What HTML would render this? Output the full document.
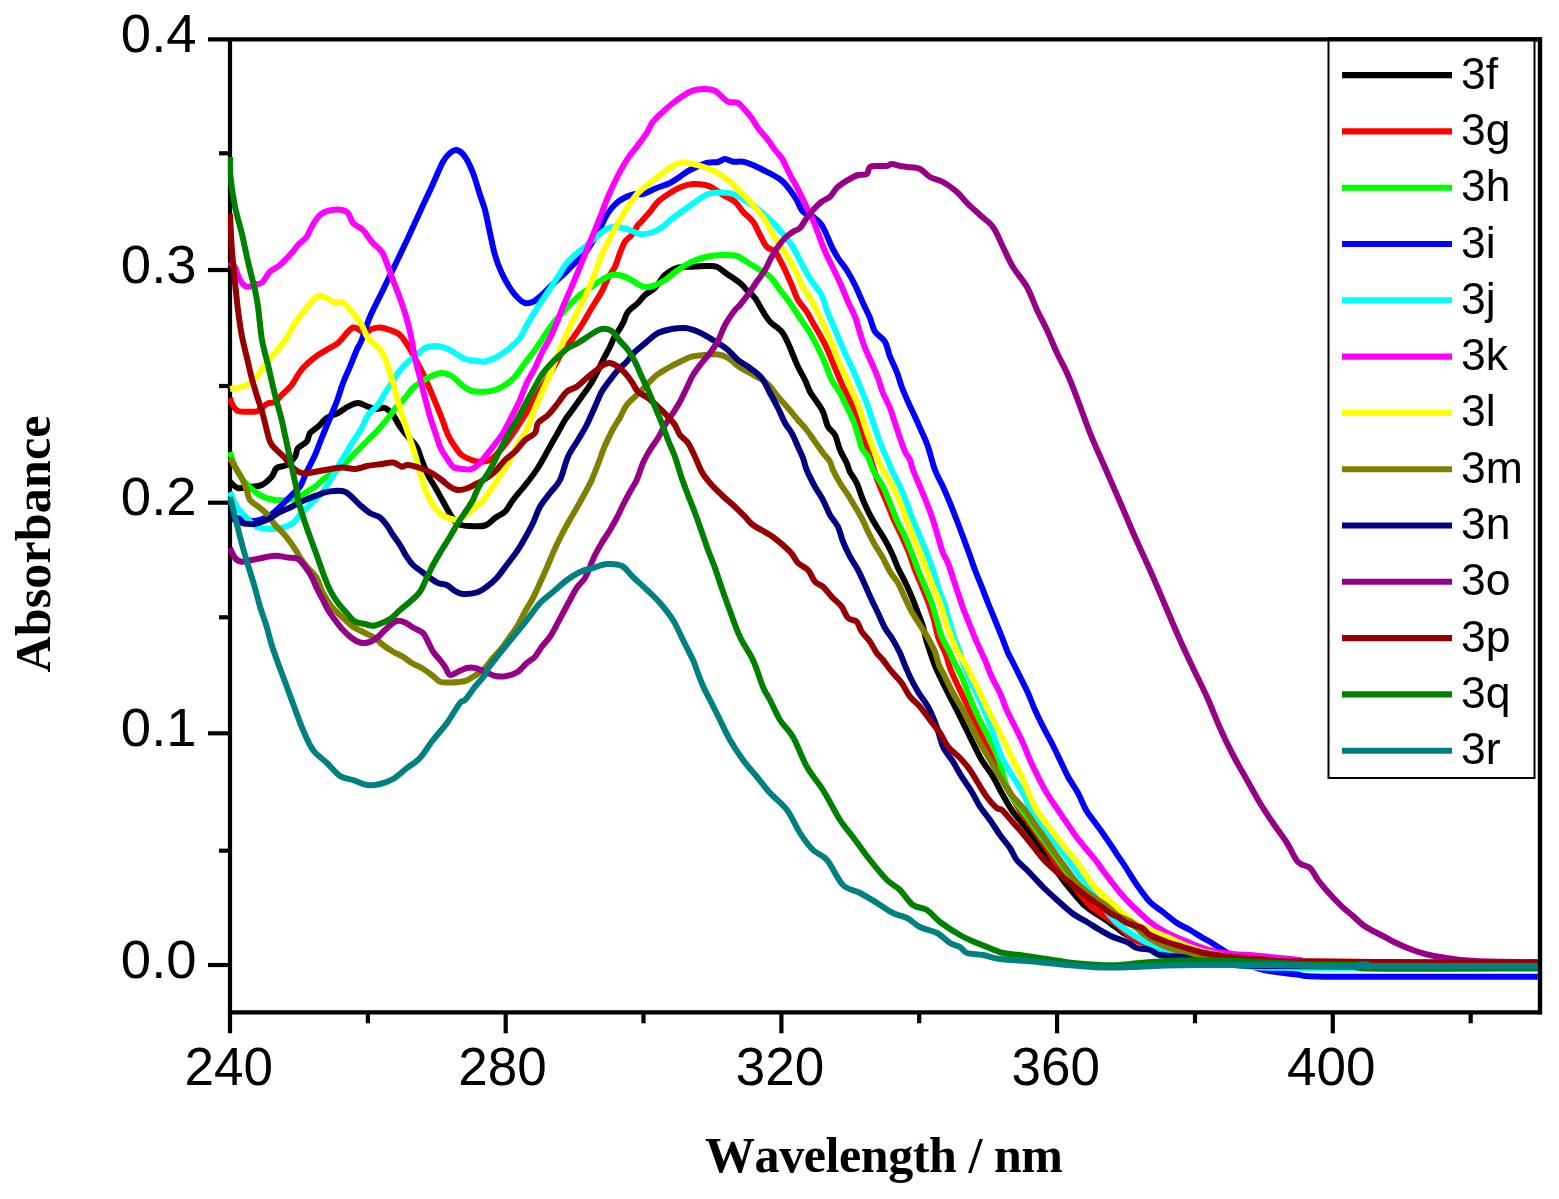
<!DOCTYPE html>
<html><head><meta charset="utf-8"><title>UV-Vis absorbance</title>
<style>html,body{margin:0;padding:0;background:#fff}svg{display:block}.t{font-family:"Liberation Sans",Arial,sans-serif;fill:#000}.b{font-kerning:none;font-family:"Liberation Serif","Times New Roman",serif;font-weight:bold;fill:#000}</style></head><body>
<svg width="1559" height="1199" viewBox="0 0 1559 1199">
<rect width="1559" height="1199" fill="#fff"/>
<defs><clipPath id="cp"><rect x="227.9" y="39.3" width="1310.0" height="973.0"/></clipPath></defs>
<g stroke="#000" stroke-width="4.2" fill="none" stroke-linecap="butt">
<path d="M208.0,39.3 H1540.0 V1012.3 H227.9"/>
<path d="M230.0,39.3 V1033.3"/>
<path d="M208.0,965.0 H230.0"/>
<path d="M219.0,850.7 H230.0"/>
<path d="M208.0,733.3 H230.0"/>
<path d="M219.0,617.3 H230.0"/>
<path d="M208.0,502.7 H230.0"/>
<path d="M219.0,386.0 H230.0"/>
<path d="M208.0,270.0 H230.0"/>
<path d="M219.0,153.3 H230.0"/>
<path d="M367.9,1012.3 V1023.3"/>
<path d="M505.7,1012.3 V1033.3"/>
<path d="M643.5,1012.3 V1023.3"/>
<path d="M781.4,1012.3 V1033.3"/>
<path d="M919.2,1012.3 V1023.3"/>
<path d="M1057.1,1012.3 V1033.3"/>
<path d="M1195.0,1012.3 V1023.3"/>
<path d="M1332.8,1012.3 V1033.3"/>
<path d="M1470.7,1012.3 V1023.3"/>
</g>
<g clip-path="url(#cp)" fill="none" stroke-width="6.0" stroke-linejoin="round" stroke-linecap="butt">
<path stroke="#000000" d="M230.0,481.7C231.3,482.8 234.7,487.2 238.0,488.0C241.3,488.8 246.1,487.2 250.0,486.7C253.9,486.2 258.1,486.7 261.7,485.0C265.3,483.3 269.2,479.5 271.7,476.7C274.2,473.9 274.2,469.9 276.7,468.0C279.2,466.1 283.6,466.9 286.7,465.0C289.8,463.1 293.1,459.5 295.0,456.7C296.9,453.9 296.1,450.5 298.0,448.0C299.9,445.5 304.7,444.2 306.7,441.7C308.7,439.2 308.1,435.5 310.0,433.0C311.9,430.5 315.2,429.2 318.0,426.7C320.8,424.2 323.4,420.3 326.7,418.0C330.0,415.7 334.4,414.9 338.0,413.0C341.6,411.1 344.7,408.4 348.0,406.7C351.3,405.0 354.7,403.0 358.0,403.0C361.3,403.0 364.9,405.7 368.0,406.7C371.1,407.7 373.9,408.8 376.7,409.0C379.5,409.2 382.3,407.0 385.0,408.0C387.7,409.0 390.5,411.9 393.0,415.0C395.5,418.1 397.5,423.1 400.0,426.7C402.5,430.3 405.2,433.4 408.0,436.7C410.8,440.0 414.4,442.8 416.7,446.7C419.0,450.6 419.8,455.3 421.7,460.0C423.6,464.7 425.5,470.0 428.0,475.0C430.5,480.0 433.9,485.0 436.7,490.0C439.5,495.0 442.5,500.6 445.0,505.0C447.5,509.4 449.5,513.5 451.7,516.7C453.9,519.9 455.3,522.5 458.0,524.0C460.7,525.5 463.5,525.8 468.0,526.0C472.5,526.2 480.5,526.8 485.0,525.5C489.5,524.2 491.7,520.3 495.0,518.0C498.3,515.7 502.0,514.7 505.0,511.7C508.0,508.7 510.2,503.8 513.0,500.0C515.8,496.2 519.2,492.5 522.0,489.0C524.8,485.5 527.4,482.4 530.0,479.0C532.6,475.6 535.2,472.1 537.5,468.5C539.8,464.9 541.8,461.4 544.0,457.5C546.2,453.6 548.5,449.2 550.8,445.0C553.1,440.8 555.6,436.7 558.0,432.5C560.4,428.3 562.5,423.9 565.0,420.0C567.5,416.1 570.2,412.9 573.0,409.0C575.8,405.1 578.9,400.7 581.7,396.7C584.5,392.7 587.5,388.9 590.0,385.0C592.5,381.1 594.5,377.2 596.7,373.0C598.9,368.8 600.8,364.4 603.0,360.0C605.2,355.6 608.2,350.4 610.0,346.7C611.8,343.0 611.8,341.9 614.0,338.0C616.2,334.1 620.7,327.4 623.0,323.0C625.3,318.6 625.5,315.0 628.0,311.7C630.5,308.4 635.2,305.8 638.0,303.0C640.8,300.2 642.2,297.5 645.0,295.0C647.8,292.5 651.7,291.3 655.0,288.0C658.3,284.7 661.4,278.3 665.0,275.0C668.6,271.7 672.2,269.4 676.7,268.0C681.2,266.6 688.4,266.9 691.7,266.7C695.0,266.4 694.2,266.6 696.7,266.5C699.2,266.4 703.4,266.0 706.7,266.0C710.0,266.0 713.3,265.4 716.7,266.7C720.1,268.0 723.1,271.3 727.0,274.0C730.9,276.7 736.7,280.3 740.0,283.0C743.3,285.7 744.2,287.5 746.7,290.0C749.2,292.5 752.3,294.4 755.0,298.0C757.7,301.6 760.5,307.8 763.0,311.7C765.5,315.6 766.9,318.4 770.0,321.7C773.1,325.0 778.7,328.1 781.7,331.7C784.7,335.2 786.1,339.1 788.0,343.0C789.9,346.9 791.3,351.1 793.0,355.0C794.7,358.9 796.0,362.5 798.0,366.7C800.0,370.9 803.0,375.8 805.0,380.0C807.0,384.2 808.0,388.1 810.0,391.7C812.0,395.3 814.5,398.4 816.7,401.7C818.9,405.0 821.1,407.5 823.0,411.7C824.9,415.9 826.0,422.8 828.0,426.7C830.0,430.6 833.0,431.1 835.0,435.0C837.0,438.9 838.0,445.3 840.0,450.0C842.0,454.7 845.0,459.3 846.7,463.0C848.4,466.7 848.3,468.7 850.0,472.0C851.7,475.3 854.5,478.3 856.7,483.0C858.9,487.7 860.8,494.7 863.0,500.0C865.2,505.3 867.7,510.6 870.0,515.0C872.3,519.5 874.2,522.5 876.7,526.7C879.2,530.9 882.5,535.6 885.0,540.0C887.5,544.4 889.5,548.3 891.7,553.0C893.9,557.7 895.8,563.2 898.0,568.0C900.2,572.8 902.7,576.9 905.0,581.7C907.3,586.5 909.5,591.5 911.7,596.7C913.9,601.9 916.1,608.0 918.0,613.0C919.9,618.0 921.5,621.9 923.0,626.7C924.5,631.5 925.2,636.7 926.7,641.7C928.2,646.7 930.2,652.3 931.7,656.7C933.2,661.1 934.6,664.7 936.0,668.0C937.4,671.3 938.0,672.5 940.0,676.7C942.0,680.9 945.2,687.5 948.0,693.0C950.8,698.5 953.9,704.4 956.7,710.0C959.5,715.6 962.3,721.2 965.0,726.7C967.7,732.2 970.2,737.5 973.0,743.0C975.8,748.5 978.4,754.4 981.7,760.0C985.0,765.6 989.7,771.2 993.0,776.7C996.3,782.2 998.6,787.5 1001.7,793.0C1004.8,798.5 1008.4,805.1 1011.7,810.0C1015.0,814.9 1018.2,818.3 1021.5,822.5C1024.8,826.7 1028.5,830.8 1031.7,835.0C1034.9,839.2 1037.6,843.3 1040.5,847.5C1043.4,851.7 1046.2,855.8 1049.0,860.0C1051.8,864.2 1054.5,868.3 1057.5,872.5C1060.5,876.7 1063.6,881.1 1066.7,885.0C1069.8,888.9 1073.0,892.5 1076.0,896.0C1079.0,899.5 1081.8,903.0 1085.0,905.8C1088.2,908.6 1092.0,911.0 1095.0,913.0C1098.0,915.0 1099.3,915.5 1103.0,918.0C1106.7,920.5 1113.0,925.2 1117.0,928.0C1121.0,930.8 1119.8,931.7 1127.0,935.0C1134.2,938.3 1149.5,944.3 1160.0,948.0C1170.5,951.7 1180.0,954.7 1190.0,957.0C1200.0,959.3 1208.3,960.8 1220.0,962.0C1231.7,963.2 1207.0,963.7 1260.0,964.0C1313.0,964.3 1491.7,964.0 1538.0,964.0"/>
<path stroke="#ff0000" d="M230.0,398.0C230.4,399.2 231.2,402.8 232.5,405.0C233.8,407.2 235.4,409.9 238.0,411.0C240.6,412.1 244.7,411.7 248.0,411.7C251.3,411.7 254.9,412.3 258.0,411.0C261.1,409.7 263.9,405.6 266.7,404.0C269.5,402.4 272.5,403.2 275.0,401.7C277.5,400.2 278.9,397.8 281.7,395.0C284.5,392.2 288.6,388.9 291.7,385.0C294.8,381.1 297.3,375.4 300.0,371.7C302.7,368.0 305.0,365.8 308.0,363.0C311.0,360.2 314.7,357.3 318.0,355.0C321.3,352.7 324.7,351.0 328.0,349.0C331.3,347.0 334.7,345.9 338.0,343.0C341.3,340.1 345.5,334.3 348.0,331.7C350.5,329.1 351.3,327.9 353.0,327.5C354.7,327.1 356.0,328.1 358.0,329.0C360.0,329.9 362.7,333.0 365.0,333.0C367.3,333.0 369.2,329.9 371.7,329.0C374.2,328.1 376.9,327.3 380.0,327.5C383.1,327.7 386.7,328.8 390.0,330.0C393.3,331.2 397.0,332.3 400.0,335.0C403.0,337.7 405.2,341.6 408.0,346.0C410.8,350.4 413.9,356.4 416.7,361.7C419.5,367.0 422.3,372.2 425.0,378.0C427.7,383.8 430.2,390.0 433.0,396.7C435.8,403.4 439.2,411.6 441.7,418.0C444.2,424.4 445.8,430.2 448.0,435.0C450.2,439.8 452.7,443.4 455.0,446.7C457.3,450.0 458.9,452.8 461.7,455.0C464.5,457.2 468.4,458.9 471.7,460.0C475.0,461.1 478.4,461.9 481.7,461.7C485.0,461.5 488.1,461.4 491.7,459.0C495.2,456.6 499.3,451.5 503.0,447.0C506.7,442.5 510.3,437.3 514.0,432.0C517.7,426.7 521.5,420.7 525.0,415.0C528.5,409.3 531.7,403.5 535.0,398.0C538.3,392.5 541.7,387.5 545.0,382.0C548.3,376.5 552.2,369.8 555.0,365.0C557.8,360.2 558.7,357.5 561.7,353.0C564.7,348.5 569.5,343.0 573.0,338.0C576.5,333.0 579.9,328.0 583.0,323.0C586.1,318.0 588.6,313.2 591.7,308.0C594.8,302.8 599.0,296.7 601.7,291.7C604.4,286.7 605.8,282.2 608.0,278.0C610.2,273.8 613.0,270.9 615.0,266.7C617.0,262.5 618.3,257.2 620.0,253.0C621.7,248.8 623.0,244.7 625.0,241.7C627.0,238.7 629.5,237.8 631.7,235.0C633.9,232.2 636.6,227.0 638.0,225.0C639.4,223.0 638.0,225.2 640.0,223.0C642.0,220.8 647.0,215.2 650.0,211.7C653.0,208.1 654.7,204.8 658.0,201.7C661.3,198.6 666.0,195.5 670.0,193.0C674.0,190.5 677.9,188.2 681.7,186.7C685.5,185.2 689.1,184.3 693.0,184.0C696.9,183.7 701.7,184.3 705.0,185.0C708.3,185.7 710.0,186.3 713.0,188.0C716.0,189.7 719.3,192.7 723.0,195.0C726.7,197.3 731.7,198.9 735.0,201.7C738.3,204.5 740.0,208.4 743.0,211.7C746.0,215.0 750.2,217.8 753.0,221.7C755.8,225.6 757.7,230.8 760.0,235.0C762.3,239.2 764.2,243.9 766.7,246.7C769.2,249.5 772.8,249.5 775.0,251.7C777.2,253.9 778.3,256.9 780.0,260.0C781.7,263.1 783.0,265.8 785.0,270.0C787.0,274.2 789.5,280.0 791.7,285.0C793.9,290.0 795.5,295.6 798.0,300.0C800.5,304.4 804.2,307.9 806.7,311.7C809.2,315.5 810.8,319.1 813.0,323.0C815.2,326.9 817.7,330.8 820.0,335.0C822.3,339.2 824.5,343.3 826.7,348.0C828.9,352.7 830.3,356.6 833.0,363.0C835.7,369.4 839.7,379.4 843.0,386.7C846.3,394.0 849.7,399.0 853.0,406.7C856.3,414.4 860.5,425.8 863.0,433.0C865.5,440.2 866.2,443.8 868.0,450.0C869.8,456.2 872.0,463.9 874.0,470.0C876.0,476.1 877.8,481.2 880.0,486.7C882.2,492.2 884.7,497.4 887.0,503.0C889.3,508.6 891.5,514.4 894.0,520.0C896.5,525.6 899.5,531.2 902.0,536.7C904.5,542.2 906.8,547.5 909.0,553.0C911.2,558.5 912.8,564.4 915.0,570.0C917.2,575.6 919.8,581.2 922.0,586.7C924.2,592.2 926.5,597.5 928.5,603.0C930.5,608.5 932.4,614.4 934.0,620.0C935.6,625.6 936.0,630.9 938.0,636.7C940.0,642.5 944.0,649.8 946.0,655.0C948.0,660.2 948.0,662.8 950.0,668.0C952.0,673.2 955.0,679.5 958.0,686.0C961.0,692.5 964.8,700.0 968.0,706.7C971.2,713.4 974.0,719.6 977.0,726.0C980.0,732.4 982.8,738.5 986.0,745.0C989.2,751.5 992.7,758.3 996.0,765.0C999.3,771.7 1002.1,777.5 1006.0,785.0C1009.9,792.5 1015.9,803.8 1019.6,810.0C1023.4,816.2 1025.5,818.3 1028.5,822.5C1031.5,826.7 1034.6,830.8 1037.5,835.0C1040.4,839.2 1043.2,843.3 1046.0,847.5C1048.8,851.7 1051.3,856.1 1054.0,860.0C1056.7,863.9 1059.3,867.3 1062.0,871.0C1064.7,874.7 1067.0,878.2 1070.0,882.0C1073.0,885.8 1076.7,890.0 1080.0,894.0C1083.3,898.0 1086.7,902.6 1090.0,905.8C1093.3,909.0 1095.5,909.8 1100.0,913.0C1104.5,916.2 1110.8,920.3 1117.0,925.0C1123.2,929.7 1128.7,937.2 1137.0,941.0C1145.3,944.8 1159.3,946.2 1167.0,948.0C1174.7,949.8 1177.5,950.8 1183.0,952.0C1188.5,953.2 1193.8,954.2 1200.0,955.0C1206.2,955.8 1210.0,956.0 1220.0,957.0C1230.0,958.0 1207.0,960.0 1260.0,961.0C1313.0,962.0 1491.7,962.7 1538.0,963.0"/>
<path stroke="#00ff00" d="M230.0,452.0C230.8,454.4 232.8,462.0 235.0,466.7C237.2,471.4 240.0,476.1 243.0,480.0C246.0,483.9 249.7,487.2 253.0,490.0C256.3,492.8 259.3,495.0 263.0,496.7C266.7,498.4 271.1,499.4 275.0,500.0C278.9,500.6 283.2,500.3 286.7,500.0C290.2,499.7 292.9,499.2 296.0,498.0C299.1,496.8 301.8,494.9 305.0,493.0C308.2,491.1 311.7,489.2 315.0,486.7C318.3,484.2 321.7,480.5 325.0,478.0C328.3,475.5 331.4,474.4 335.0,471.7C338.6,469.0 342.9,465.3 346.7,461.7C350.5,458.1 354.4,453.6 358.0,450.0C361.6,446.4 364.7,443.3 368.0,440.0C371.3,436.7 374.7,433.7 378.0,430.0C381.3,426.3 384.9,421.9 388.0,418.0C391.1,414.1 393.9,410.0 396.7,406.7C399.5,403.4 402.3,401.1 405.0,398.0C407.7,394.9 410.2,390.7 413.0,388.0C415.8,385.3 418.9,383.6 421.7,381.7C424.5,379.8 426.7,378.1 430.0,376.7C433.3,375.2 438.1,373.1 441.7,373.0C445.3,372.9 448.4,374.0 451.7,376.0C455.0,378.0 458.4,382.5 461.7,385.0C465.0,387.5 467.8,389.9 471.7,391.0C475.6,392.1 481.1,391.9 485.0,391.7C488.9,391.5 491.7,391.1 495.0,390.0C498.3,388.9 501.7,387.2 505.0,385.0C508.3,382.8 511.7,380.4 515.0,376.7C518.3,373.0 521.7,367.4 525.0,363.0C528.3,358.6 532.2,353.8 535.0,350.0C537.8,346.2 538.9,344.2 541.7,340.0C544.5,335.8 547.8,330.0 551.7,325.0C555.6,320.0 560.6,314.7 565.0,310.0C569.4,305.3 573.5,300.6 578.0,296.7C582.5,292.8 587.8,289.5 591.7,286.7C595.7,283.9 598.4,281.9 601.7,280.0C605.0,278.1 608.2,275.7 611.7,275.0C615.2,274.3 619.5,275.0 623.0,276.0C626.5,277.0 629.7,279.2 633.0,281.0C636.3,282.8 639.7,285.9 643.0,286.7C646.3,287.5 649.3,287.1 653.0,286.0C656.7,284.9 660.8,282.7 665.0,280.0C669.2,277.3 673.5,273.1 678.0,270.0C682.5,266.9 686.9,263.9 691.7,261.7C696.5,259.5 701.5,257.8 706.7,256.7C711.9,255.6 718.0,255.1 723.0,255.0C728.0,254.9 732.8,254.9 736.7,256.0C740.7,257.1 743.4,259.7 746.7,261.7C750.0,263.7 752.8,265.5 756.7,268.0C760.6,270.5 766.1,273.0 770.0,276.7C773.9,280.4 776.7,285.6 780.0,290.0C783.3,294.4 786.7,298.3 790.0,303.0C793.3,307.7 796.7,313.0 800.0,318.0C803.3,323.0 807.0,328.0 810.0,333.0C813.0,338.0 815.5,343.0 818.0,348.0C820.5,353.0 822.7,357.7 825.0,363.0C827.3,368.3 829.2,375.0 831.7,380.0C834.2,385.0 837.5,388.6 840.0,393.0C842.5,397.4 844.5,402.2 846.7,406.7C848.9,411.2 851.1,415.3 853.0,420.0C854.9,424.7 856.5,430.3 858.0,435.0C859.5,439.7 860.0,444.4 861.7,448.0C863.4,451.6 866.1,453.0 868.0,456.7C869.9,460.4 870.5,465.0 873.0,470.0C875.5,475.0 880.2,481.2 883.0,486.7C885.8,492.2 887.7,497.4 890.0,503.0C892.3,508.6 894.2,514.4 896.7,520.0C899.2,525.6 902.5,531.2 905.0,536.7C907.5,542.2 909.5,547.5 911.7,553.0C913.9,558.5 915.8,564.4 918.0,570.0C920.2,575.6 922.7,581.2 925.0,586.7C927.3,592.2 929.8,597.5 931.7,603.0C933.7,608.5 935.0,614.4 936.7,620.0C938.4,625.6 939.5,631.2 941.7,636.7C943.9,642.2 948.1,649.1 950.0,653.0C951.9,656.9 951.0,656.0 953.0,660.0C955.0,664.0 959.2,671.2 961.7,676.7C964.2,682.2 965.8,687.5 968.0,693.0C970.2,698.5 972.5,704.4 975.0,710.0C977.5,715.6 980.2,721.2 983.0,726.7C985.8,732.2 989.0,737.5 991.7,743.0C994.4,748.5 996.3,752.2 999.0,760.0C1001.7,767.8 1004.2,781.7 1008.0,790.0C1011.8,798.3 1018.2,804.6 1022.0,810.0C1025.8,815.4 1028.0,818.3 1031.0,822.5C1034.0,826.7 1037.0,830.8 1040.0,835.0C1043.0,839.2 1046.0,843.3 1049.0,847.5C1052.0,851.7 1055.0,855.8 1058.0,860.0C1061.0,864.2 1063.8,868.3 1067.0,872.5C1070.2,876.7 1073.2,881.0 1077.0,885.0C1080.8,889.0 1085.5,892.9 1090.0,896.5C1094.5,900.1 1099.0,902.9 1104.0,906.5C1109.0,910.1 1114.8,914.6 1120.0,918.0C1125.2,921.4 1130.0,923.7 1135.0,927.0C1140.0,930.3 1145.0,934.7 1150.0,938.0C1155.0,941.3 1160.0,944.5 1165.0,947.0C1170.0,949.5 1174.2,950.8 1180.0,953.0C1185.8,955.2 1192.5,958.2 1200.0,960.0C1207.5,961.8 1168.7,963.2 1225.0,964.0C1281.3,964.8 1485.8,964.8 1538.0,965.0"/>
<path stroke="#0000ff" d="M230.0,517.0C231.1,517.2 232.9,517.3 236.7,518.0C240.5,518.7 247.8,521.2 253.0,521.0C258.2,520.8 263.5,519.1 268.0,516.7C272.5,514.3 276.1,510.3 280.0,506.7C283.9,503.1 288.4,498.3 291.7,495.0C295.0,491.7 297.5,490.6 300.0,486.7C302.5,482.8 304.2,477.0 306.7,471.7C309.2,466.4 312.5,460.6 315.0,455.0C317.5,449.4 319.2,444.2 321.7,438.0C324.2,431.8 327.5,424.1 330.0,418.0C332.5,411.9 334.5,407.5 336.7,401.7C338.9,395.9 340.8,388.8 343.0,383.0C345.2,377.2 347.7,372.2 350.0,366.7C352.3,361.2 354.8,354.4 356.7,350.0C358.6,345.6 359.5,345.6 361.7,340.0C363.9,334.4 366.4,325.0 370.0,316.7C373.6,308.4 378.6,299.2 383.0,290.0C387.4,280.8 392.5,270.4 396.7,261.7C400.9,253.0 404.1,246.3 408.0,238.0C411.9,229.7 416.1,220.2 420.0,211.7C423.9,203.1 427.9,195.0 431.7,186.7C435.5,178.4 439.9,167.3 443.0,161.7C446.1,156.1 447.7,154.9 450.0,153.0C452.3,151.1 454.2,149.4 456.7,150.0C459.2,150.6 462.3,152.9 465.0,156.7C467.7,160.5 470.5,166.6 473.0,173.0C475.5,179.4 478.0,188.8 480.0,195.0C482.0,201.2 483.3,203.7 485.0,210.0C486.7,216.3 488.3,225.5 490.0,233.0C491.7,240.5 493.1,248.3 495.0,255.0C496.9,261.7 499.2,267.5 501.7,273.0C504.2,278.5 507.3,283.8 510.0,288.0C512.7,292.2 515.5,295.5 518.0,298.0C520.5,300.5 522.5,302.4 525.0,303.0C527.5,303.6 530.2,303.0 533.0,301.7C535.8,300.4 538.4,297.9 541.7,295.0C545.0,292.1 549.1,287.7 553.0,284.0C556.9,280.3 561.3,276.5 565.0,273.0C568.7,269.5 571.7,266.3 575.0,263.0C578.3,259.7 581.3,257.8 585.0,253.0C588.7,248.2 593.2,240.7 597.0,234.0C600.8,227.3 604.7,218.2 608.0,213.0C611.3,207.8 613.9,205.6 616.7,203.0C619.5,200.4 622.0,199.0 625.0,197.5C628.0,196.0 632.0,194.6 635.0,194.0C638.0,193.4 639.4,195.0 643.0,194.0C646.6,193.0 652.2,189.8 656.7,188.0C661.2,186.2 666.1,184.9 670.0,183.0C673.9,181.1 676.7,178.9 680.0,176.7C683.3,174.5 685.5,172.3 690.0,170.0C694.5,167.7 702.0,164.3 706.7,163.0C711.4,161.7 715.0,162.7 718.0,162.0C721.0,161.3 722.5,159.1 725.0,159.0C727.5,158.9 730.0,161.2 733.0,161.7C736.0,162.1 739.7,161.1 743.0,161.7C746.3,162.2 749.7,163.6 753.0,165.0C756.3,166.4 759.7,168.3 763.0,170.0C766.3,171.7 769.7,173.1 773.0,175.0C776.3,176.9 780.2,179.2 783.0,181.7C785.8,184.2 787.7,186.9 790.0,190.0C792.3,193.1 794.5,196.4 796.7,200.0C798.9,203.6 800.3,208.9 803.0,211.7C805.7,214.5 809.9,214.5 813.0,216.7C816.1,218.9 819.4,221.9 821.7,225.0C824.0,228.1 825.0,231.4 826.7,235.0C828.4,238.6 829.8,242.9 831.7,246.7C833.6,250.5 835.5,254.1 838.0,258.0C840.5,261.9 843.9,265.5 846.7,270.0C849.5,274.5 852.3,279.5 855.0,285.0C857.7,290.5 860.5,297.5 863.0,303.0C865.5,308.5 868.0,313.2 870.0,318.0C872.0,322.8 872.5,327.8 875.0,331.7C877.5,335.6 882.5,337.5 885.0,341.7C887.5,345.9 888.0,351.7 890.0,356.7C892.0,361.7 894.8,366.7 896.7,371.7C898.7,376.7 899.8,381.7 901.7,386.7C903.6,391.7 905.8,396.7 908.0,401.7C910.2,406.7 912.7,411.7 915.0,416.7C917.3,421.7 919.5,426.7 921.7,431.7C923.9,436.7 925.8,440.3 928.0,446.7C930.2,453.1 932.5,463.3 935.0,470.0C937.5,476.7 940.5,481.2 943.0,486.7C945.5,492.2 947.7,497.4 950.0,503.0C952.3,508.6 954.5,514.4 956.7,520.0C958.9,525.6 961.0,531.2 963.0,536.7C965.0,542.2 967.0,547.5 969.0,553.0C971.0,558.5 972.9,564.4 975.0,570.0C977.1,575.6 979.5,581.2 981.7,586.7C983.9,592.2 985.8,597.5 988.0,603.0C990.2,608.5 992.7,614.4 995.0,620.0C997.3,625.6 999.5,631.2 1001.7,636.7C1003.9,642.2 1006.3,649.1 1008.0,653.0C1009.7,656.9 1009.7,656.0 1011.7,660.0C1013.7,664.0 1017.3,671.2 1020.0,676.7C1022.7,682.2 1025.5,687.5 1028.0,693.0C1030.5,698.5 1032.5,704.4 1035.0,710.0C1037.5,715.6 1040.2,721.2 1043.0,726.7C1045.8,732.2 1048.9,737.5 1051.7,743.0C1054.5,748.5 1057.3,754.4 1060.0,760.0C1062.7,765.6 1065.0,771.2 1068.0,776.7C1071.0,782.2 1075.0,787.5 1078.0,793.0C1081.0,798.5 1083.2,805.1 1086.0,810.0C1088.8,814.9 1092.0,818.3 1095.0,822.5C1098.0,826.7 1101.1,830.8 1104.0,835.0C1106.9,839.2 1109.7,843.3 1112.5,847.5C1115.3,851.7 1118.6,856.8 1120.8,860.0C1123.0,863.2 1122.8,862.8 1125.5,867.0C1128.2,871.2 1132.9,879.2 1137.0,885.0C1141.1,890.8 1145.7,897.5 1150.0,902.0C1154.3,906.5 1158.5,908.5 1163.0,912.0C1167.5,915.5 1172.5,920.0 1177.0,923.0C1181.5,926.0 1185.7,927.5 1190.0,930.0C1194.3,932.5 1199.3,935.8 1203.0,938.0C1206.7,940.2 1205.8,939.2 1212.0,943.0C1218.2,946.8 1232.0,956.7 1240.0,961.0C1248.0,965.3 1253.3,967.1 1260.0,969.0C1266.7,970.9 1273.8,971.6 1280.0,972.5C1286.2,973.4 1288.3,973.8 1297.0,974.5C1305.7,975.2 1291.8,976.3 1332.0,976.7C1372.2,977.1 1503.7,976.7 1538.0,976.7"/>
<path stroke="#00ffff" d="M230.0,492.0C231.1,494.4 233.9,502.4 236.7,506.7C239.5,511.0 243.4,514.7 246.7,518.0C250.0,521.3 252.8,524.9 256.7,526.7C260.6,528.5 265.6,528.9 270.0,529.0C274.4,529.1 279.2,528.5 283.0,527.5C286.8,526.5 290.2,525.1 293.0,523.0C295.8,520.9 296.9,518.3 300.0,515.0C303.1,511.7 308.1,506.7 311.7,503.0C315.3,499.3 318.4,497.2 321.7,493.0C325.0,488.8 329.0,482.4 331.7,478.0C334.4,473.6 335.8,470.5 338.0,466.7C340.2,462.9 342.5,459.2 345.0,455.0C347.5,450.8 350.2,446.2 353.0,441.7C355.8,437.2 359.2,432.4 361.7,428.0C364.2,423.6 365.3,418.8 368.0,415.0C370.7,411.2 375.2,408.7 378.0,405.0C380.8,401.3 382.7,396.7 385.0,393.0C387.3,389.3 389.5,386.3 391.7,383.0C393.9,379.7 395.5,376.3 398.0,373.0C400.5,369.7 403.6,366.0 406.7,363.0C409.8,360.0 413.6,357.5 416.7,355.0C419.8,352.5 421.7,349.5 425.0,348.0C428.3,346.5 432.9,345.8 436.7,346.0C440.5,346.2 444.4,347.5 448.0,349.0C451.6,350.5 455.2,353.3 458.0,355.0C460.8,356.7 461.7,358.0 465.0,359.0C468.3,360.0 474.7,360.6 478.0,361.0C481.3,361.4 482.2,362.0 485.0,361.5C487.8,361.0 491.7,359.6 495.0,358.0C498.3,356.4 502.0,353.9 505.0,351.7C508.0,349.5 510.5,347.3 513.0,345.0C515.5,342.7 517.5,341.7 520.0,338.0C522.5,334.3 525.0,328.2 528.0,323.0C531.0,317.8 534.7,311.9 538.0,306.7C541.3,301.5 544.7,296.7 548.0,291.7C551.3,286.7 554.9,281.5 558.0,276.7C561.1,271.9 563.9,266.6 566.7,263.0C569.5,259.4 572.0,257.7 575.0,255.0C578.0,252.3 581.7,249.5 585.0,246.7C588.3,243.9 591.7,240.8 595.0,238.0C598.3,235.2 602.0,231.9 605.0,230.0C608.0,228.1 609.4,226.9 613.0,226.7C616.6,226.5 622.2,227.8 626.7,229.0C631.2,230.2 635.8,233.4 640.0,234.0C644.2,234.6 648.1,233.6 651.7,232.5C655.3,231.4 658.2,229.9 661.7,227.5C665.2,225.1 668.8,221.2 673.0,218.0C677.2,214.8 682.5,211.0 686.7,208.0C690.9,205.0 694.5,202.3 698.0,200.0C701.5,197.7 704.3,195.2 708.0,194.0C711.7,192.8 715.8,192.5 720.0,192.5C724.2,192.5 728.5,192.5 733.0,194.0C737.5,195.5 742.8,199.4 746.7,201.7C750.7,204.0 753.2,205.3 756.7,208.0C760.2,210.7 764.5,214.7 768.0,218.0C771.5,221.3 775.2,224.9 778.0,228.0C780.8,231.1 782.7,233.9 785.0,236.7C787.3,239.5 789.5,241.7 791.7,245.0C793.9,248.3 795.8,252.5 798.0,256.7C800.2,260.9 802.5,265.6 805.0,270.0C807.5,274.4 810.2,278.8 813.0,283.0C815.8,287.2 819.4,290.5 821.7,295.0C824.0,299.5 824.8,305.0 826.7,310.0C828.6,315.0 830.8,319.7 833.0,325.0C835.2,330.3 837.7,336.4 840.0,341.7C842.3,347.0 844.5,352.0 846.7,356.7C848.9,361.4 850.8,365.0 853.0,370.0C855.2,375.0 857.7,381.2 860.0,386.7C862.3,392.2 864.8,397.8 866.7,403.0C868.7,408.2 870.0,413.0 871.7,418.0C873.4,423.0 875.0,428.2 876.7,433.0C878.4,437.8 880.0,442.5 881.7,446.7C883.4,450.9 885.0,454.1 886.7,458.0C888.4,461.9 889.5,465.2 891.7,470.0C893.9,474.8 897.5,481.2 900.0,486.7C902.5,492.2 904.5,497.4 906.7,503.0C908.9,508.6 910.8,514.4 913.0,520.0C915.2,525.6 917.7,531.2 920.0,536.7C922.3,542.2 924.5,547.5 926.7,553.0C928.9,558.5 931.1,564.4 933.0,570.0C934.9,575.6 936.2,581.2 938.0,586.7C939.8,592.2 942.2,597.5 944.0,603.0C945.8,608.5 947.3,614.4 949.0,620.0C950.7,625.6 952.2,631.2 954.0,636.7C955.8,642.2 958.2,647.8 960.0,653.0C961.8,658.2 962.8,662.5 965.0,668.0C967.2,673.5 970.3,680.2 973.0,686.0C975.7,691.8 978.3,697.0 981.0,703.0C983.7,709.0 986.5,715.5 989.0,722.0C991.5,728.5 993.7,735.7 996.0,742.0C998.3,748.3 1000.2,754.2 1003.0,760.0C1005.8,765.8 1009.7,771.2 1013.0,776.7C1016.3,782.2 1020.0,787.5 1023.0,793.0C1026.0,798.5 1028.0,805.1 1030.8,810.0C1033.6,814.9 1037.0,818.3 1040.0,822.5C1043.0,826.7 1045.9,830.8 1049.0,835.0C1052.1,839.2 1055.3,843.3 1058.5,847.5C1061.7,851.7 1064.9,855.8 1068.0,860.0C1071.1,864.2 1074.0,868.3 1077.0,872.5C1080.0,876.7 1082.0,879.9 1085.8,885.0C1089.6,890.1 1094.8,896.7 1100.0,903.0C1105.2,909.3 1110.0,916.8 1117.0,923.0C1124.0,929.2 1133.7,935.5 1142.0,940.0C1150.3,944.5 1158.7,947.2 1167.0,950.0C1175.3,952.8 1183.2,954.8 1192.0,957.0C1200.8,959.2 1210.3,961.4 1220.0,963.0C1229.7,964.6 1241.7,965.7 1250.0,966.5C1258.3,967.3 1250.7,967.5 1270.0,967.7C1289.3,967.9 1349.7,968.0 1366.0,967.7C1382.3,967.4 1339.3,966.3 1368.0,966.0C1396.7,965.7 1509.7,966.0 1538.0,966.0"/>
<path stroke="#ff00ff" d="M230.0,262.0C230.8,262.9 233.3,264.5 235.0,267.5C236.7,270.5 238.1,276.8 240.0,280.0C241.9,283.2 243.7,286.0 246.7,286.7C249.7,287.4 255.3,284.8 258.0,284.0C260.7,283.2 261.0,283.8 263.0,281.7C265.0,279.6 267.2,274.5 270.0,271.7C272.8,268.9 276.4,268.1 280.0,265.0C283.6,261.9 288.7,256.3 291.7,253.0C294.7,249.7 295.5,247.7 298.0,245.0C300.5,242.3 304.4,239.8 306.7,236.7C309.0,233.6 309.5,230.3 311.7,226.7C313.9,223.1 316.7,217.8 320.0,215.0C323.3,212.2 327.2,210.6 331.7,210.0C336.1,209.4 343.1,209.5 346.7,211.7C350.2,213.9 350.3,219.9 353.0,223.0C355.7,226.1 359.9,226.9 363.0,230.0C366.1,233.1 368.6,238.1 371.7,241.7C374.8,245.3 379.2,248.1 381.7,251.7C384.2,255.2 385.0,258.8 386.7,263.0C388.4,267.2 389.8,271.7 391.7,276.7C393.6,281.7 395.8,286.9 398.0,293.0C400.2,299.1 403.0,306.6 405.0,313.0C407.0,319.4 408.3,324.2 410.0,331.7C411.7,339.2 413.3,350.3 415.0,358.0C416.7,365.7 418.3,371.3 420.0,378.0C421.7,384.7 423.3,391.6 425.0,398.0C426.7,404.4 428.3,411.1 430.0,416.7C431.7,422.3 433.3,426.7 435.0,431.7C436.7,436.7 438.1,442.3 440.0,446.7C441.9,451.1 444.5,454.7 446.7,458.0C448.9,461.3 450.5,464.9 453.0,466.7C455.5,468.5 458.6,468.6 461.7,469.0C464.8,469.4 468.6,470.0 471.7,469.0C474.8,468.0 477.8,465.1 480.0,463.0C482.2,460.9 482.8,459.4 485.0,456.7C487.2,454.0 490.0,450.6 493.0,446.7C496.0,442.8 499.9,438.0 503.0,433.0C506.1,428.0 508.9,422.2 511.7,416.7C514.5,411.2 517.5,405.6 520.0,400.0C522.5,394.4 524.2,388.3 526.7,383.0C529.2,377.7 532.5,373.0 535.0,368.0C537.5,363.0 539.2,358.0 541.7,353.0C544.2,348.0 547.5,343.0 550.0,338.0C552.5,333.0 554.5,328.2 556.7,323.0C558.9,317.8 560.5,312.8 563.0,306.7C565.5,300.6 568.9,293.4 571.7,286.7C574.5,280.0 577.3,273.4 580.0,266.7C582.7,260.0 585.5,252.8 588.0,246.7C590.5,240.6 592.7,235.6 595.0,230.0C597.3,224.4 599.5,218.6 601.7,213.0C603.9,207.4 605.5,202.5 608.0,196.7C610.5,190.9 613.6,184.1 616.7,178.0C619.8,171.9 623.4,165.2 626.7,160.0C630.0,154.8 633.4,151.2 636.7,146.7C640.0,142.2 644.0,137.2 646.7,133.0C649.4,128.8 650.3,125.2 653.0,121.7C655.7,118.2 659.7,114.8 663.0,111.7C666.3,108.6 669.7,105.7 673.0,103.0C676.3,100.3 679.3,98.0 683.0,95.8C686.7,93.6 690.0,91.0 695.0,90.0C700.0,89.0 708.8,89.2 713.0,90.0C717.2,90.8 717.5,93.0 720.0,95.0C722.5,97.0 725.0,100.4 728.0,101.7C731.0,103.0 735.2,101.6 738.0,103.0C740.8,104.4 742.7,107.5 745.0,110.0C747.3,112.5 749.5,115.0 751.7,118.0C753.9,121.0 755.3,124.3 758.0,128.0C760.7,131.7 765.2,136.3 768.0,140.0C770.8,143.7 772.7,147.0 775.0,150.0C777.3,153.0 779.8,155.0 781.7,158.0C783.7,161.0 785.0,164.7 786.7,168.0C788.4,171.3 790.0,174.9 791.7,178.0C793.4,181.1 795.0,183.6 796.7,186.7C798.4,189.8 799.8,192.8 801.7,196.7C803.6,200.6 806.1,206.1 808.0,210.0C809.9,213.9 811.3,216.2 813.0,220.0C814.7,223.8 816.3,228.6 818.0,233.0C819.7,237.4 821.3,242.5 823.0,246.7C824.7,250.9 826.2,254.1 828.0,258.0C829.8,261.9 831.7,265.2 834.0,270.0C836.3,274.8 839.4,281.4 841.7,286.7C844.0,292.0 845.8,296.7 848.0,301.7C850.2,306.7 853.0,311.5 855.0,316.7C857.0,321.9 858.3,327.8 860.0,333.0C861.7,338.2 863.0,343.0 865.0,348.0C867.0,353.0 869.5,358.0 871.7,363.0C873.9,368.0 876.1,373.0 878.0,378.0C879.9,383.0 881.0,388.0 883.0,393.0C885.0,398.0 888.0,403.0 890.0,408.0C892.0,413.0 893.3,418.0 895.0,423.0C896.7,428.0 898.3,433.2 900.0,438.0C901.7,442.8 903.3,448.0 905.0,451.7C906.7,455.4 908.7,456.9 910.0,460.0C911.3,463.1 911.3,465.6 913.0,470.0C914.7,474.4 917.7,481.2 920.0,486.7C922.3,492.2 924.5,497.4 926.7,503.0C928.9,508.6 931.1,514.4 933.0,520.0C934.9,525.6 936.3,531.2 938.0,536.7C939.7,542.2 941.3,548.6 943.0,553.0C944.7,557.4 946.3,558.8 948.0,563.0C949.7,567.2 951.3,573.0 953.0,578.0C954.7,583.0 956.3,588.0 958.0,593.0C959.7,598.0 961.2,603.0 963.0,608.0C964.8,613.0 967.0,618.0 969.0,623.0C971.0,628.0 972.9,633.0 975.0,638.0C977.1,643.0 980.0,649.3 981.7,653.0C983.4,656.7 983.3,656.0 985.0,660.0C986.7,664.0 989.2,671.2 991.7,676.7C994.2,682.2 997.5,687.5 1000.0,693.0C1002.5,698.5 1004.2,704.4 1006.7,710.0C1009.2,715.6 1012.3,721.2 1015.0,726.7C1017.7,732.2 1020.5,737.5 1023.0,743.0C1025.5,748.5 1027.5,754.4 1030.0,760.0C1032.5,765.6 1035.2,771.2 1038.0,776.7C1040.8,782.2 1043.4,787.5 1046.7,793.0C1050.0,798.5 1054.7,805.1 1058.0,810.0C1061.3,814.9 1063.7,818.3 1066.5,822.5C1069.3,826.7 1071.9,830.8 1075.0,835.0C1078.1,839.2 1081.6,843.3 1085.0,847.5C1088.4,851.7 1092.2,855.8 1095.4,860.0C1098.7,864.2 1101.4,868.3 1104.5,872.5C1107.6,876.7 1110.9,881.1 1114.0,885.0C1117.1,888.9 1120.0,892.6 1123.0,896.0C1126.0,899.4 1127.5,901.2 1132.0,905.5C1136.5,909.8 1144.2,917.4 1150.0,922.0C1155.8,926.6 1161.5,930.0 1167.0,933.0C1172.5,936.0 1177.5,937.7 1183.0,940.0C1188.5,942.3 1194.3,945.0 1200.0,947.0C1205.7,949.0 1211.5,950.8 1217.0,952.0C1222.5,953.2 1225.8,953.3 1233.0,954.0C1240.2,954.7 1248.8,955.0 1260.0,956.0C1271.2,957.0 1292.2,959.0 1300.0,960.0C1307.8,961.0 1267.3,961.3 1307.0,962.0C1346.7,962.7 1499.5,963.7 1538.0,964.0"/>
<path stroke="#ffff00" d="M230.0,389.0C232.5,388.5 240.8,387.7 245.0,386.0C249.2,384.3 251.7,382.5 255.0,379.0C258.3,375.5 261.7,369.3 265.0,365.0C268.3,360.7 271.4,357.5 275.0,353.0C278.6,348.5 283.4,343.0 286.7,338.0C290.0,333.0 291.9,327.7 295.0,323.0C298.1,318.3 301.7,314.2 305.0,310.0C308.3,305.8 312.4,300.4 315.0,298.0C317.6,295.6 318.6,295.6 320.8,295.8C323.0,296.0 325.6,297.9 328.0,299.0C330.4,300.1 332.5,301.9 335.0,302.5C337.5,303.1 340.2,301.0 343.0,302.5C345.8,304.0 348.6,307.9 351.7,311.7C354.8,315.4 359.0,320.6 361.7,325.0C364.4,329.4 364.7,333.6 368.0,338.0C371.3,342.4 378.4,346.9 381.7,351.7C385.0,356.5 386.1,361.5 388.0,366.7C389.9,371.9 391.3,377.2 393.0,383.0C394.7,388.8 396.3,395.9 398.0,401.7C399.7,407.5 401.3,412.8 403.0,418.0C404.7,423.2 406.3,428.0 408.0,433.0C409.7,438.0 411.3,442.7 413.0,448.0C414.7,453.3 416.6,460.0 418.0,465.0C419.4,470.0 420.2,473.3 421.7,478.0C423.1,482.7 424.8,488.5 426.7,493.0C428.6,497.5 430.5,501.3 433.0,505.0C435.5,508.7 438.6,512.7 441.7,515.0C444.8,517.3 449.0,518.2 451.7,519.0C454.4,519.8 455.3,521.0 458.0,520.0C460.7,519.0 464.7,515.5 468.0,513.0C471.3,510.5 475.2,507.5 478.0,505.0C480.8,502.5 482.5,501.1 485.0,498.0C487.5,494.9 490.2,490.9 493.0,486.7C495.8,482.5 498.9,477.4 501.7,473.0C504.5,468.6 507.3,465.0 510.0,460.0C512.7,455.0 515.2,448.0 518.0,443.0C520.8,438.0 524.2,435.0 526.7,430.0C529.2,425.0 530.8,418.6 533.0,413.0C535.2,407.4 537.7,401.9 540.0,396.7C542.3,391.5 544.8,386.1 546.7,381.7C548.7,377.2 550.0,374.2 551.7,370.0C553.4,365.8 554.7,361.7 556.7,356.7C558.8,351.7 561.5,345.6 564.0,340.0C566.5,334.4 569.0,328.6 571.7,323.0C574.4,317.4 577.3,312.2 580.0,306.7C582.7,301.2 585.5,295.6 588.0,290.0C590.5,284.4 592.7,278.8 595.0,273.0C597.3,267.2 599.2,260.8 601.7,255.0C604.2,249.2 607.3,243.3 610.0,238.0C612.7,232.7 615.0,228.2 618.0,223.0C621.0,217.8 624.7,211.7 628.0,206.7C631.3,201.7 634.3,196.9 638.0,193.0C641.7,189.1 646.3,186.0 650.0,183.0C653.7,180.0 656.4,177.7 660.0,175.0C663.6,172.3 668.1,168.8 671.7,166.7C675.3,164.6 678.2,162.9 681.7,162.5C685.2,162.1 688.8,163.1 693.0,164.0C697.2,164.9 702.5,166.5 706.7,168.0C710.9,169.5 714.1,170.7 718.0,173.0C721.9,175.3 726.3,178.6 730.0,181.7C733.7,184.8 736.7,188.4 740.0,191.7C743.3,195.0 746.7,198.1 750.0,201.7C753.3,205.2 757.2,209.4 760.0,213.0C762.8,216.6 764.5,219.3 766.7,223.0C768.9,226.7 770.8,231.3 773.0,235.0C775.2,238.7 777.7,241.7 780.0,245.0C782.3,248.3 784.2,250.8 786.7,255.0C789.2,259.2 792.5,265.0 795.0,270.0C797.5,275.0 799.2,280.3 801.7,285.0C804.2,289.7 807.3,293.3 810.0,298.0C812.7,302.7 815.5,308.0 818.0,313.0C820.5,318.0 822.7,323.0 825.0,328.0C827.3,333.0 829.5,337.7 831.7,343.0C833.9,348.3 835.8,354.7 838.0,360.0C840.2,365.3 842.7,370.0 845.0,375.0C847.3,380.0 849.5,385.0 851.7,390.0C853.9,395.0 856.1,400.0 858.0,405.0C859.9,410.0 861.3,415.0 863.0,420.0C864.7,425.0 866.3,430.3 868.0,435.0C869.7,439.7 871.3,443.8 873.0,448.0C874.7,452.2 876.3,456.3 878.0,460.0C879.7,463.7 880.5,465.6 883.0,470.0C885.5,474.4 890.2,481.2 893.0,486.7C895.8,492.2 897.7,497.4 900.0,503.0C902.3,508.6 904.5,514.4 906.7,520.0C908.9,525.6 910.8,531.2 913.0,536.7C915.2,542.2 917.7,547.5 920.0,553.0C922.3,558.5 924.5,564.4 926.7,570.0C928.9,575.6 930.8,581.2 933.0,586.7C935.2,592.2 938.0,597.5 940.0,603.0C942.0,608.5 943.2,614.4 945.0,620.0C946.8,625.6 948.8,631.2 951.0,636.7C953.2,642.2 956.0,649.1 958.0,653.0C960.0,656.9 960.7,656.0 963.0,660.0C965.3,664.0 968.9,671.2 971.7,676.7C974.5,682.2 977.3,687.5 980.0,693.0C982.7,698.5 985.2,704.4 988.0,710.0C990.8,715.6 993.9,721.2 996.7,726.7C999.5,732.2 1002.3,737.5 1005.0,743.0C1007.7,748.5 1010.2,754.4 1013.0,760.0C1015.8,765.6 1019.1,771.2 1021.7,776.7C1024.3,782.2 1026.0,787.5 1028.5,793.0C1031.0,798.5 1033.9,805.1 1036.7,810.0C1039.5,814.9 1042.5,818.3 1045.5,822.5C1048.5,826.7 1051.8,830.8 1055.0,835.0C1058.2,839.2 1061.6,843.3 1065.0,847.5C1068.4,851.7 1072.2,855.8 1075.4,860.0C1078.6,864.2 1081.1,868.3 1084.0,872.5C1086.9,876.7 1089.7,881.1 1093.0,885.0C1096.3,888.9 1100.3,892.5 1104.0,896.0C1107.7,899.5 1110.2,901.5 1115.0,905.8C1119.8,910.1 1127.2,918.0 1133.0,922.0C1138.8,926.0 1144.3,927.5 1150.0,930.0C1155.7,932.5 1161.2,934.5 1167.0,937.0C1172.8,939.5 1178.7,942.5 1185.0,945.0C1191.3,947.5 1197.5,950.0 1205.0,952.0C1212.5,954.0 1220.8,955.3 1230.0,957.0C1239.2,958.7 1208.7,960.7 1260.0,962.0C1311.3,963.3 1491.7,964.5 1538.0,965.0"/>
<path stroke="#808000" d="M230.0,458.0C230.8,459.4 233.1,463.4 235.0,466.7C236.9,470.0 239.8,474.1 241.7,478.0C243.6,481.9 245.3,486.3 246.7,490.0C248.1,493.7 247.8,497.0 250.0,500.0C252.2,503.0 257.0,505.5 260.0,508.0C263.0,510.5 265.5,512.2 268.0,515.0C270.5,517.8 272.5,522.0 275.0,525.0C277.5,528.0 280.5,530.2 283.0,533.0C285.5,535.8 287.7,538.6 290.0,541.7C292.3,544.8 294.8,548.7 296.7,551.7C298.6,554.8 299.6,557.1 301.7,560.0C303.8,562.9 306.5,566.0 309.0,569.0C311.5,572.0 314.4,574.0 316.7,578.0C319.0,582.0 320.5,588.2 323.0,593.0C325.5,597.8 328.6,602.8 331.7,606.7C334.8,610.7 338.1,613.4 341.7,616.7C345.2,620.0 349.1,624.0 353.0,626.7C356.9,629.4 361.3,631.1 365.0,633.0C368.7,634.9 372.0,636.0 375.0,638.0C378.0,640.0 380.0,642.7 383.0,645.0C386.0,647.3 389.7,649.8 393.0,651.7C396.3,653.7 399.9,654.8 403.0,656.7C406.1,658.6 408.6,661.1 411.7,663.0C414.8,664.9 418.4,666.0 421.7,668.0C425.0,670.0 428.6,672.7 431.7,675.0C434.8,677.3 436.9,680.5 440.0,681.7C443.1,683.0 445.8,682.6 450.0,682.5C454.2,682.4 461.2,682.0 465.0,681.0C468.8,680.0 470.0,678.5 473.0,676.7C476.0,674.9 479.7,673.1 483.0,670.0C486.3,666.9 489.9,661.7 493.0,658.0C496.1,654.3 498.9,651.5 501.7,648.0C504.5,644.5 507.3,640.5 510.0,636.7C512.7,632.9 515.5,629.2 518.0,625.0C520.5,620.8 522.5,616.2 525.0,611.7C527.5,607.2 530.5,602.8 533.0,598.0C535.5,593.2 537.7,588.0 540.0,583.0C542.3,578.0 544.5,573.0 546.7,568.0C548.9,563.0 550.8,558.0 553.0,553.0C555.2,548.0 557.5,543.0 560.0,538.0C562.5,533.0 565.2,528.0 568.0,523.0C570.8,518.0 573.9,513.0 576.7,508.0C579.5,503.0 582.5,497.7 585.0,493.0C587.5,488.3 589.4,485.2 591.7,480.0C594.0,474.8 596.9,467.2 599.0,461.7C601.1,456.1 602.2,452.0 604.5,446.7C606.8,441.4 609.9,434.9 612.5,430.0C615.1,425.1 617.6,421.7 620.0,417.5C622.4,413.3 623.9,408.8 626.7,405.0C629.5,401.2 633.4,398.3 636.7,395.0C640.0,391.7 643.4,388.3 646.7,385.0C650.0,381.7 653.2,377.8 656.7,375.0C660.2,372.2 664.1,370.2 668.0,368.0C671.9,365.8 676.0,363.6 680.0,361.7C684.0,359.8 687.5,357.8 691.7,356.7C695.9,355.6 700.6,355.4 705.0,355.0C709.4,354.6 714.2,354.0 718.0,354.5C721.8,355.0 724.3,355.8 728.0,358.0C731.7,360.2 736.3,365.0 740.0,367.5C743.7,370.0 745.5,370.4 750.0,373.0C754.5,375.6 762.0,379.1 766.7,383.0C771.4,386.9 774.5,392.5 778.0,396.7C781.5,400.9 784.7,404.1 788.0,408.0C791.3,411.9 794.9,416.3 798.0,420.0C801.1,423.7 803.9,426.4 806.7,430.0C809.5,433.6 812.3,437.9 815.0,441.7C817.7,445.5 820.5,449.7 823.0,453.0C825.5,456.3 828.3,458.9 830.0,461.7C831.7,464.5 831.3,466.4 833.0,470.0C834.7,473.6 837.5,478.8 840.0,483.0C842.5,487.2 845.5,491.1 848.0,495.0C850.5,498.9 852.7,502.9 855.0,506.7C857.3,510.5 859.5,513.8 861.7,518.0C863.9,522.2 865.8,527.2 868.0,531.7C870.2,536.2 872.5,540.6 875.0,545.0C877.5,549.4 880.5,553.5 883.0,558.0C885.5,562.5 887.5,567.5 890.0,571.7C892.5,575.9 895.5,578.6 898.0,583.0C900.5,587.4 902.7,593.2 905.0,598.0C907.3,602.8 909.2,607.2 911.7,611.7C914.2,616.2 917.3,620.6 920.0,625.0C922.7,629.4 925.5,633.5 928.0,638.0C930.5,642.5 933.2,647.2 935.0,651.7C936.8,656.2 937.3,660.8 939.0,665.0C940.7,669.2 942.7,672.0 945.0,676.7C947.3,681.4 950.0,687.5 953.0,693.0C956.0,698.5 959.9,704.4 963.0,710.0C966.1,715.6 968.9,721.2 971.7,726.7C974.5,732.2 977.0,737.5 980.0,743.0C983.0,748.5 986.7,754.4 990.0,760.0C993.3,765.6 996.7,771.2 1000.0,776.7C1003.3,782.2 1005.8,787.5 1010.0,793.0C1014.2,798.5 1021.1,805.1 1025.0,810.0C1028.9,814.9 1030.6,818.3 1033.5,822.5C1036.4,826.7 1039.6,830.8 1042.5,835.0C1045.4,839.2 1048.1,843.3 1051.0,847.5C1053.9,851.7 1057.0,855.8 1060.0,860.0C1063.0,864.2 1065.8,868.3 1069.0,872.5C1072.2,876.7 1075.0,881.0 1079.0,885.0C1083.0,889.0 1088.2,892.9 1093.0,896.5C1097.8,900.1 1103.5,903.4 1107.5,906.5C1111.5,909.6 1112.8,912.2 1117.0,915.0C1121.2,917.8 1128.8,920.0 1133.0,923.0C1137.2,926.0 1137.8,929.7 1142.0,933.0C1146.2,936.3 1152.5,940.2 1158.0,943.0C1163.5,945.8 1169.3,948.0 1175.0,950.0C1180.7,952.0 1184.5,953.7 1192.0,955.0C1199.5,956.3 1208.7,956.8 1220.0,958.0C1231.3,959.2 1207.0,961.0 1260.0,962.0C1313.0,963.0 1491.7,963.7 1538.0,964.0"/>
<path stroke="#000080" d="M230.0,515.0C231.3,516.1 234.2,520.2 238.0,521.7C241.8,523.2 248.2,524.3 253.0,524.0C257.8,523.7 262.5,521.8 266.7,520.0C270.9,518.2 273.8,515.2 278.0,513.0C282.2,510.8 287.2,508.9 291.7,506.7C296.2,504.5 300.6,501.9 305.0,500.0C309.4,498.1 314.2,496.4 318.0,495.0C321.8,493.6 323.5,492.2 328.0,491.7C332.5,491.1 339.7,489.5 345.0,491.7C350.3,493.9 355.8,501.4 360.0,505.0C364.2,508.6 366.7,510.9 370.0,513.0C373.3,515.1 377.2,515.5 380.0,517.5C382.8,519.5 384.5,522.1 386.7,525.0C388.9,527.9 390.8,531.7 393.0,535.0C395.2,538.3 397.7,541.4 400.0,545.0C402.3,548.6 404.5,553.4 406.7,556.7C408.9,560.0 410.5,562.5 413.0,565.0C415.5,567.5 418.9,569.5 421.7,571.7C424.5,573.9 427.3,576.1 430.0,578.0C432.7,579.9 435.2,581.8 438.0,583.0C440.8,584.2 443.9,583.7 446.7,585.0C449.5,586.3 452.3,589.5 455.0,591.0C457.7,592.5 459.4,593.8 463.0,594.0C466.6,594.2 472.8,593.7 476.7,592.5C480.6,591.3 483.4,589.1 486.7,586.7C490.0,584.3 493.4,581.6 496.7,578.0C500.0,574.4 503.4,569.4 506.7,565.0C510.0,560.6 513.7,556.2 516.7,551.7C519.8,547.2 522.3,542.8 525.0,538.0C527.7,533.2 530.5,528.2 533.0,523.0C535.5,517.8 537.2,511.7 540.0,506.7C542.8,501.7 546.7,497.4 550.0,493.0C553.3,488.6 557.0,486.1 560.0,480.0C563.0,473.9 565.0,463.4 568.0,456.7C571.0,450.0 574.9,445.3 578.0,440.0C581.1,434.7 583.9,430.6 586.7,425.0C589.5,419.4 592.5,412.2 595.0,406.7C597.5,401.1 599.2,396.1 601.7,391.7C604.2,387.2 607.3,383.6 610.0,380.0C612.7,376.4 615.2,373.1 618.0,370.0C620.8,366.9 623.9,364.8 626.7,361.7C629.5,358.6 632.3,354.5 635.0,351.7C637.7,348.9 640.5,347.1 643.0,345.0C645.5,342.9 647.5,341.0 650.0,339.0C652.5,337.0 654.4,334.7 658.0,333.0C661.6,331.3 667.2,329.8 671.7,329.0C676.2,328.2 680.6,327.6 685.0,328.0C689.4,328.4 694.2,330.2 698.0,331.7C701.8,333.2 704.7,335.1 708.0,337.0C711.3,338.9 714.7,340.8 718.0,343.0C721.3,345.2 724.7,347.2 728.0,350.0C731.3,352.8 734.3,357.0 738.0,360.0C741.7,363.0 746.0,365.0 750.0,368.0C754.0,371.0 758.4,373.8 761.7,378.0C765.0,382.2 767.3,388.0 770.0,393.0C772.7,398.0 775.5,403.0 778.0,408.0C780.5,413.0 782.7,418.8 785.0,423.0C787.3,427.2 789.5,429.1 791.7,433.0C793.9,436.9 796.1,442.5 798.0,446.7C799.9,450.9 801.5,454.1 803.0,458.0C804.5,461.9 804.7,465.2 806.7,470.0C808.7,474.8 812.3,481.7 815.0,486.7C817.7,491.7 820.5,495.3 823.0,500.0C825.5,504.7 827.5,510.6 830.0,515.0C832.5,519.5 835.8,522.2 838.0,526.7C840.2,531.2 841.0,536.7 843.0,541.7C845.0,546.7 847.5,552.0 850.0,556.7C852.5,561.4 855.5,565.3 858.0,570.0C860.5,574.7 862.7,580.0 865.0,585.0C867.3,590.0 869.5,595.3 871.7,600.0C873.9,604.7 875.8,608.3 878.0,613.0C880.2,617.7 882.5,623.5 885.0,628.0C887.5,632.5 890.5,635.8 893.0,640.0C895.5,644.2 898.2,649.2 900.0,653.0C901.8,656.8 902.3,659.0 904.0,663.0C905.7,667.0 907.7,671.9 910.0,676.7C912.3,681.5 915.0,686.7 918.0,691.7C921.0,696.7 924.9,700.9 928.0,706.7C931.1,712.5 934.2,720.0 936.7,726.7C939.2,733.4 940.3,740.9 943.0,746.7C945.7,752.5 949.9,756.7 953.0,761.7C956.1,766.7 958.6,771.7 961.7,776.7C964.8,781.7 968.7,786.7 971.7,791.7C974.8,796.7 977.0,802.0 980.0,806.7C983.0,811.4 986.7,815.3 990.0,820.0C993.3,824.7 996.7,830.3 1000.0,835.0C1003.3,839.7 1007.2,843.8 1010.0,848.0C1012.8,852.2 1013.9,856.3 1016.7,860.0C1019.5,863.7 1022.6,865.5 1027.0,870.0C1031.4,874.5 1038.0,882.0 1043.0,887.0C1048.0,892.0 1052.2,895.7 1057.0,900.0C1061.8,904.3 1067.0,909.3 1072.0,913.0C1077.0,916.7 1082.3,919.2 1087.0,922.0C1091.7,924.8 1095.7,927.5 1100.0,930.0C1104.3,932.5 1108.5,935.0 1113.0,937.0C1117.5,939.0 1123.0,940.2 1127.0,942.0C1131.0,943.8 1133.2,946.7 1137.0,948.0C1140.8,949.3 1146.2,948.8 1150.0,950.0C1153.8,951.2 1154.5,953.8 1160.0,955.0C1165.5,956.2 1176.3,956.0 1183.0,957.0C1189.7,958.0 1187.2,959.5 1200.0,961.0C1212.8,962.5 1203.7,965.0 1260.0,966.0C1316.3,967.0 1491.7,966.8 1538.0,967.0"/>
<path stroke="#960087" d="M230.0,548.0C230.8,549.7 233.1,555.7 235.0,558.0C236.9,560.3 238.9,561.4 241.7,561.7C244.5,562.0 248.4,560.6 251.7,560.0C255.0,559.4 257.8,558.7 261.7,558.0C265.6,557.3 270.6,555.9 275.0,555.8C279.4,555.7 284.2,557.0 288.0,557.5C291.8,558.0 295.2,557.5 298.0,559.0C300.8,560.5 302.7,563.8 305.0,566.7C307.3,569.7 309.8,573.2 311.7,576.7C313.6,580.2 314.8,584.1 316.7,588.0C318.6,591.9 321.1,596.3 323.0,600.0C324.9,603.7 326.0,606.7 328.0,610.0C330.0,613.3 332.5,616.7 335.0,620.0C337.5,623.3 340.2,627.0 343.0,630.0C345.8,633.0 348.9,635.9 351.7,638.0C354.5,640.1 357.3,641.8 360.0,642.5C362.7,643.2 365.2,643.2 368.0,642.5C370.8,641.8 373.9,640.1 376.7,638.0C379.5,635.9 382.3,632.5 385.0,630.0C387.7,627.5 390.8,624.5 393.0,623.0C395.2,621.5 396.0,620.9 398.0,620.8C400.0,620.7 402.5,621.4 405.0,622.5C407.5,623.6 410.0,625.8 413.0,627.5C416.0,629.2 420.5,630.6 423.0,633.0C425.5,635.4 426.3,638.6 428.0,641.7C429.7,644.8 431.0,648.7 433.0,651.7C435.0,654.8 438.0,657.5 440.0,660.0C442.0,662.5 443.3,664.2 445.0,666.7C446.7,669.2 447.8,674.2 450.0,675.0C452.2,675.8 455.2,672.9 458.0,671.7C460.8,670.5 463.9,668.6 466.7,668.0C469.5,667.4 471.9,667.4 475.0,668.0C478.1,668.6 481.7,670.4 485.0,671.7C488.3,673.0 491.4,675.3 495.0,676.0C498.6,676.7 502.9,676.7 506.7,676.0C510.5,675.3 514.7,673.9 518.0,671.7C521.3,669.5 523.9,665.5 526.7,663.0C529.5,660.5 532.5,659.4 535.0,656.7C537.5,654.0 539.2,650.0 541.7,646.7C544.2,643.4 547.5,640.3 550.0,636.7C552.5,633.1 554.5,629.0 556.7,625.0C558.9,621.0 560.8,617.2 563.0,613.0C565.2,608.8 567.7,604.2 570.0,600.0C572.3,595.8 574.2,591.7 576.7,588.0C579.2,584.3 582.8,581.5 585.0,578.0C587.2,574.5 588.3,570.5 590.0,566.7C591.7,562.9 593.0,559.0 595.0,555.0C597.0,551.0 599.2,547.2 601.7,543.0C604.2,538.8 607.5,534.2 610.0,530.0C612.5,525.8 614.5,522.2 616.7,518.0C618.9,513.8 620.8,509.4 623.0,505.0C625.2,500.6 627.7,495.9 630.0,491.7C632.3,487.5 634.5,484.8 636.7,480.0C638.9,475.2 640.8,468.0 643.0,463.0C645.2,458.0 647.5,454.2 650.0,450.0C652.5,445.8 655.5,442.2 658.0,438.0C660.5,433.8 662.5,429.2 665.0,425.0C667.5,420.8 670.5,416.9 673.0,413.0C675.5,409.1 677.7,405.9 680.0,401.7C682.3,397.5 684.5,392.4 686.7,388.0C688.9,383.6 690.5,379.2 693.0,375.0C695.5,370.8 698.9,366.7 701.7,363.0C704.5,359.3 707.3,356.7 710.0,353.0C712.7,349.3 715.5,345.7 718.0,341.0C720.5,336.3 722.2,330.2 725.0,325.0C727.8,319.8 732.5,313.3 735.0,310.0C737.5,306.7 737.5,308.1 740.0,305.0C742.5,301.9 747.0,295.9 750.0,291.7C753.0,287.5 755.5,283.6 758.0,280.0C760.5,276.4 762.7,273.9 765.0,270.0C767.3,266.1 769.5,260.6 771.7,256.7C773.9,252.8 775.8,249.8 778.0,246.7C780.2,243.6 782.5,240.5 785.0,238.0C787.5,235.5 790.5,233.4 793.0,231.7C795.5,230.0 797.7,230.3 800.0,228.0C802.3,225.7 804.5,221.0 806.7,218.0C808.9,215.0 810.5,212.7 813.0,210.0C815.5,207.3 818.9,203.9 821.7,201.7C824.5,199.5 827.5,199.0 830.0,196.7C832.5,194.4 834.5,190.3 836.7,188.0C838.9,185.7 840.5,184.7 843.0,183.0C845.5,181.3 849.2,179.3 851.7,178.0C854.2,176.7 855.5,175.7 858.0,175.0C860.5,174.3 864.7,175.3 866.7,174.0C868.7,172.7 868.1,168.3 870.0,167.0C871.9,165.7 875.2,166.2 878.0,166.0C880.8,165.8 884.4,166.3 886.7,166.0C889.0,165.7 889.5,164.0 891.7,164.0C893.9,164.0 897.5,165.5 900.0,166.0C902.5,166.5 903.7,166.5 907.0,167.0C910.3,167.5 916.2,167.3 920.0,169.0C923.8,170.7 926.2,174.8 930.0,177.0C933.8,179.2 938.5,179.5 943.0,182.0C947.5,184.5 953.0,188.5 957.0,192.0C961.0,195.5 963.2,199.2 967.0,203.0C970.8,206.8 975.7,211.0 980.0,215.0C984.3,219.0 989.2,221.7 993.0,227.0C996.8,232.3 999.7,240.3 1003.0,247.0C1006.3,253.7 1009.0,260.3 1013.0,267.0C1017.0,273.7 1023.0,279.8 1027.0,287.0C1031.0,294.2 1033.7,302.8 1037.0,310.0C1040.3,317.2 1043.7,322.8 1047.0,330.0C1050.3,337.2 1053.7,345.8 1057.0,353.0C1060.3,360.2 1063.7,365.5 1067.0,373.0C1070.3,380.5 1073.2,388.0 1077.0,398.0C1080.8,408.0 1085.7,422.2 1090.0,433.0C1094.3,443.8 1098.0,451.5 1103.0,463.0C1108.0,474.5 1114.7,489.7 1120.0,502.0C1125.3,514.3 1130.0,525.7 1135.0,537.0C1140.0,548.3 1145.0,558.7 1150.0,570.0C1155.0,581.3 1160.0,593.3 1165.0,605.0C1170.0,616.7 1175.3,629.5 1180.0,640.0C1184.7,650.5 1188.5,658.5 1193.0,668.0C1197.5,677.5 1202.5,687.0 1207.0,697.0C1211.5,707.0 1215.7,718.3 1220.0,728.0C1224.3,737.7 1228.5,746.3 1233.0,755.0C1237.5,763.7 1242.5,772.0 1247.0,780.0C1251.5,788.0 1255.7,795.8 1260.0,803.0C1264.3,810.2 1268.5,816.3 1273.0,823.0C1277.5,829.7 1282.8,836.5 1287.0,843.0C1291.2,849.5 1294.2,857.8 1298.0,862.0C1301.8,866.2 1306.7,865.0 1310.0,868.0C1313.3,871.0 1315.0,876.0 1318.0,880.0C1321.0,884.0 1324.0,887.6 1328.0,892.0C1332.0,896.4 1337.8,902.6 1342.0,906.6C1346.2,910.6 1349.5,912.9 1353.0,916.0C1356.5,919.1 1359.7,922.5 1363.0,925.0C1366.3,927.5 1369.7,929.2 1373.0,931.0C1376.3,932.8 1379.7,934.2 1383.0,936.0C1386.3,937.8 1389.5,939.8 1393.0,941.5C1396.5,943.2 1400.5,945.0 1404.0,946.5C1407.5,948.0 1410.7,949.3 1414.0,950.5C1417.3,951.7 1420.7,952.8 1424.0,953.7C1427.3,954.6 1430.5,955.3 1434.0,956.0C1437.5,956.7 1441.5,957.3 1445.0,957.8C1448.5,958.3 1451.7,958.8 1455.0,959.2C1458.3,959.6 1459.2,959.8 1465.0,960.2C1470.8,960.6 1477.8,961.2 1490.0,961.5C1502.2,961.8 1530.0,961.9 1538.0,962.0"/>
<path stroke="#960000" d="M230.0,214.0C230.3,219.4 231.0,236.9 231.7,246.7C232.4,256.5 233.3,265.8 234.0,273.0C234.7,280.2 235.1,283.8 235.8,290.0C236.5,296.2 237.0,302.5 238.0,310.0C239.0,317.5 240.2,327.2 241.7,335.0C243.1,342.8 245.0,349.5 246.7,356.7C248.4,363.9 250.0,371.6 251.7,378.0C253.4,384.4 254.8,388.8 256.7,395.0C258.6,401.2 260.8,407.2 263.0,415.0C265.2,422.8 267.7,435.9 270.0,441.7C272.3,447.5 274.2,447.3 276.7,450.0C279.2,452.7 282.5,455.2 285.0,458.0C287.5,460.8 288.9,464.2 291.7,466.7C294.5,469.2 298.4,472.0 301.7,473.0C305.0,474.0 307.8,473.0 311.7,472.5C315.6,472.0 320.0,470.8 325.0,470.0C330.0,469.2 336.7,467.7 341.7,467.5C346.7,467.3 350.6,469.3 355.0,469.0C359.4,468.7 363.6,466.6 368.0,465.8C372.4,465.0 377.5,464.6 381.7,464.0C385.9,463.4 389.7,462.1 393.0,462.5C396.3,462.9 399.2,466.3 401.7,466.7C404.2,467.1 404.9,464.8 408.0,465.0C411.1,465.2 416.1,466.7 420.0,468.0C423.9,469.3 428.1,471.0 431.7,473.0C435.3,475.0 438.6,477.7 441.7,480.0C444.8,482.3 447.3,485.0 450.0,486.7C452.7,488.4 455.0,489.8 458.0,490.0C461.0,490.2 464.7,489.2 468.0,488.0C471.3,486.8 475.2,484.5 478.0,483.0C480.8,481.5 482.2,480.9 485.0,479.0C487.8,477.1 491.7,474.9 495.0,471.7C498.3,468.5 501.7,463.3 505.0,460.0C508.3,456.7 511.7,455.0 515.0,451.7C518.3,448.4 521.7,443.1 525.0,440.0C528.3,436.9 532.8,435.8 535.0,433.0C537.2,430.2 535.8,426.0 538.0,423.0C540.2,420.0 544.7,418.3 548.0,415.0C551.3,411.7 554.9,406.9 558.0,403.0C561.1,399.1 563.6,394.4 566.7,391.7C569.8,389.0 573.4,389.0 576.7,386.7C580.0,384.4 583.4,380.8 586.7,378.0C590.0,375.2 594.0,372.2 596.7,370.0C599.4,367.8 600.8,366.2 603.0,365.0C605.2,363.8 607.5,362.7 610.0,363.0C612.5,363.3 615.5,365.0 618.0,366.7C620.5,368.4 622.7,370.5 625.0,373.0C627.3,375.5 629.5,378.6 631.7,381.7C633.9,384.8 635.3,389.0 638.0,391.7C640.7,394.4 644.7,395.5 648.0,398.0C651.3,400.5 654.7,403.6 658.0,406.7C661.3,409.8 665.2,413.6 668.0,416.7C670.8,419.8 673.0,421.9 675.0,425.0C677.0,428.1 677.8,432.0 680.0,435.0C682.2,438.0 685.5,439.4 688.0,443.0C690.5,446.6 692.7,451.9 695.0,456.7C697.3,461.5 699.2,467.3 701.7,471.7C704.2,476.1 706.7,479.1 710.0,483.0C713.3,486.9 717.9,491.3 721.7,495.0C725.5,498.7 729.1,501.4 733.0,505.0C736.9,508.6 741.7,513.4 745.0,516.7C748.3,520.0 748.3,521.6 753.0,525.0C757.7,528.4 766.8,532.5 773.0,537.0C779.2,541.5 785.8,547.4 790.0,551.7C794.2,556.0 795.0,560.0 798.0,563.0C801.0,566.0 805.2,566.9 808.0,570.0C810.8,573.1 812.5,578.9 815.0,581.7C817.5,584.5 820.2,584.2 823.0,586.7C825.8,589.2 828.6,593.4 831.7,596.7C834.8,600.0 839.0,603.2 841.7,606.7C844.4,610.2 845.5,615.5 848.0,618.0C850.5,620.5 854.4,619.4 856.7,621.7C859.0,624.0 859.5,628.4 861.7,631.7C863.9,635.0 867.5,638.2 870.0,641.7C872.5,645.2 874.5,650.0 876.7,653.0C878.9,656.0 880.5,656.9 883.0,660.0C885.5,663.1 888.6,667.9 891.7,671.7C894.8,675.5 898.7,678.8 901.7,683.0C904.8,687.2 907.0,692.8 910.0,696.7C913.0,700.7 916.7,702.8 920.0,706.7C923.3,710.6 926.7,715.6 930.0,720.0C933.3,724.4 937.0,728.5 940.0,733.0C943.0,737.5 944.7,742.5 948.0,746.7C951.3,750.9 956.3,754.1 960.0,758.0C963.7,761.9 967.0,765.8 970.0,770.0C973.0,774.2 975.2,778.5 978.0,783.0C980.8,787.5 983.6,792.5 986.7,796.7C989.8,800.9 994.2,805.8 996.7,808.0C999.2,810.2 999.3,807.6 1002.0,810.0C1004.7,812.4 1009.3,818.3 1013.0,822.5C1016.7,826.7 1020.5,830.8 1024.0,835.0C1027.5,839.2 1030.7,843.3 1034.0,847.5C1037.3,851.7 1040.0,855.8 1044.0,860.0C1048.0,864.2 1053.2,868.8 1058.0,873.0C1062.8,877.2 1067.8,881.2 1072.5,885.0C1077.2,888.8 1081.4,892.5 1086.0,896.0C1090.6,899.5 1096.0,903.0 1100.0,905.8C1104.0,908.6 1107.0,911.1 1110.0,913.0C1113.0,914.9 1115.2,915.3 1118.0,917.0C1120.8,918.7 1123.0,921.2 1127.0,923.0C1131.0,924.8 1138.2,926.0 1142.0,928.0C1145.8,930.0 1145.8,932.7 1150.0,935.0C1154.2,937.3 1161.5,940.0 1167.0,942.0C1172.5,944.0 1177.5,945.3 1183.0,947.0C1188.5,948.7 1194.3,950.7 1200.0,952.0C1205.7,953.3 1211.5,954.2 1217.0,955.0C1222.5,955.8 1228.0,956.5 1233.0,957.0C1238.0,957.5 1240.3,957.5 1247.0,958.0C1253.7,958.5 1264.2,959.4 1273.0,960.0C1281.8,960.6 1255.8,961.0 1300.0,961.5C1344.2,962.0 1498.3,962.8 1538.0,963.0"/>
<path stroke="#008000" d="M230.0,157.0C230.1,160.0 229.5,166.7 230.3,175.0C231.1,183.3 233.1,197.0 235.0,206.7C236.9,216.4 239.5,223.6 241.7,233.0C243.9,242.4 246.1,253.5 248.3,263.0C250.5,272.5 253.4,282.7 255.0,290.0C256.6,297.3 256.8,298.4 258.0,306.7C259.2,315.0 260.3,330.3 262.0,340.0C263.7,349.7 265.8,355.8 268.0,365.0C270.2,374.2 272.7,385.8 275.0,395.0C277.3,404.2 279.8,412.0 281.7,420.0C283.6,428.0 285.0,435.2 286.7,443.0C288.4,450.8 290.0,458.9 291.7,466.7C293.4,474.5 295.6,484.4 296.7,490.0C297.8,495.6 296.9,495.6 298.0,500.0C299.1,504.4 301.0,510.6 303.0,516.7C305.0,522.8 307.7,530.3 310.0,536.7C312.3,543.1 314.5,549.0 316.7,555.0C318.9,561.0 320.8,567.2 323.0,573.0C325.2,578.8 327.5,585.0 330.0,590.0C332.5,595.0 335.2,599.2 338.0,603.0C340.8,606.8 343.9,609.9 346.7,613.0C349.5,616.1 351.9,619.9 355.0,621.7C358.1,623.5 362.0,623.3 365.0,624.0C368.0,624.7 370.2,626.0 373.0,625.8C375.8,625.6 378.6,624.3 381.7,623.0C384.8,621.7 388.6,620.2 391.7,618.0C394.8,615.8 396.9,612.7 400.0,610.0C403.1,607.3 406.7,604.8 410.0,601.7C413.3,598.7 417.2,595.7 420.0,591.7C422.8,587.8 424.5,582.5 426.7,578.0C428.9,573.5 430.5,569.7 433.0,565.0C435.5,560.3 438.9,554.7 441.7,550.0C444.5,545.3 447.3,541.2 450.0,536.7C452.7,532.2 455.2,527.5 458.0,523.0C460.8,518.5 464.2,513.8 466.7,510.0C469.2,506.2 471.6,502.5 473.0,500.0C474.4,497.5 473.6,498.1 475.0,495.0C476.4,491.9 480.0,484.5 481.7,481.7C483.4,478.9 483.3,480.5 485.0,478.0C486.7,475.5 489.2,471.4 491.7,466.7C494.2,462.0 497.3,455.3 500.0,450.0C502.7,444.7 505.0,440.3 508.0,435.0C511.0,429.7 514.9,423.6 518.0,418.0C521.1,412.4 523.9,406.9 526.7,401.7C529.5,396.5 532.3,391.5 535.0,386.7C537.7,381.9 540.2,376.9 543.0,373.0C545.8,369.1 548.9,366.0 551.7,363.0C554.5,360.0 557.3,357.5 560.0,355.0C562.7,352.5 565.0,350.0 568.0,348.0C571.0,346.0 574.0,345.3 578.0,343.0C582.0,340.7 587.8,336.3 591.7,334.0C595.7,331.7 598.4,329.5 601.7,329.0C605.0,328.5 608.7,329.0 611.7,331.0C614.8,333.0 617.3,337.8 620.0,341.0C622.7,344.2 625.5,346.6 628.0,350.0C630.5,353.4 632.7,357.2 635.0,361.7C637.3,366.1 639.5,372.0 641.7,376.7C643.9,381.4 645.8,385.0 648.0,390.0C650.2,395.0 652.7,401.2 655.0,406.7C657.3,412.2 659.5,417.4 661.7,423.0C663.9,428.6 665.8,434.4 668.0,440.0C670.2,445.6 672.7,450.4 675.0,456.7C677.3,463.0 679.5,471.6 681.7,478.0C683.9,484.4 685.8,489.2 688.0,495.0C690.2,500.8 692.7,506.9 695.0,513.0C697.3,519.1 699.5,525.5 701.7,531.7C703.9,537.9 705.8,544.0 708.0,550.0C710.2,556.0 712.7,561.7 715.0,568.0C717.3,574.3 719.2,580.8 721.7,588.0C724.2,595.2 727.0,602.8 730.0,611.0C733.0,619.2 736.2,628.8 740.0,637.0C743.8,645.2 749.2,651.7 753.0,660.0C756.8,668.3 760.2,680.3 763.0,687.0C765.8,693.7 767.2,694.5 770.0,700.0C772.8,705.5 776.2,713.8 780.0,720.0C783.8,726.2 788.5,729.2 793.0,737.0C797.5,744.8 802.0,758.2 807.0,767.0C812.0,775.8 817.5,781.2 823.0,790.0C828.5,798.8 835.0,812.2 840.0,820.0C845.0,827.8 848.0,830.3 853.0,837.0C858.0,843.7 864.3,852.8 870.0,860.0C875.7,867.2 882.0,875.0 887.0,880.0C892.0,885.0 895.7,885.8 900.0,890.0C904.3,894.2 908.5,901.7 913.0,905.0C917.5,908.3 922.5,907.2 927.0,910.0C931.5,912.8 934.5,917.8 940.0,922.0C945.5,926.2 953.8,931.5 960.0,935.0C966.2,938.5 972.5,941.0 977.0,943.0C981.5,945.0 982.7,945.3 987.0,947.0C991.3,948.7 997.5,951.7 1003.0,953.0C1008.5,954.3 1015.0,954.3 1020.0,955.0C1025.0,955.7 1027.5,956.2 1033.0,957.0C1038.5,957.8 1046.3,959.0 1053.0,960.0C1059.7,961.0 1065.2,962.2 1073.0,963.0C1080.8,963.8 1092.2,964.7 1100.0,965.0C1107.8,965.3 1113.3,965.3 1120.0,965.0C1126.7,964.7 1133.3,963.6 1140.0,963.0C1146.7,962.4 1152.8,961.9 1160.0,961.5C1167.2,961.1 1173.0,960.7 1183.0,960.5C1193.0,960.3 1207.2,960.2 1220.0,960.5C1232.8,960.8 1246.7,961.4 1260.0,962.0C1273.3,962.6 1283.0,963.5 1300.0,964.0C1317.0,964.5 1350.3,964.2 1362.0,965.0C1373.7,965.8 1340.7,967.9 1370.0,968.5C1399.3,969.1 1510.0,968.5 1538.0,968.5"/>
<path stroke="#008080" d="M230.0,497.0C230.8,500.3 233.3,510.1 235.0,516.7C236.7,523.3 238.3,530.3 240.0,536.7C241.7,543.1 243.3,549.2 245.0,555.0C246.7,560.8 248.3,566.2 250.0,571.7C251.7,577.2 253.3,582.2 255.0,588.0C256.7,593.8 258.1,600.2 260.0,606.7C261.9,613.2 264.8,620.3 266.7,626.7C268.6,633.1 269.8,639.0 271.7,645.0C273.6,651.0 275.8,656.9 278.0,663.0C280.2,669.1 282.7,675.5 285.0,681.7C287.3,687.9 288.7,692.0 291.7,700.0C294.7,708.0 299.4,721.7 303.0,730.0C306.6,738.3 309.0,744.5 313.0,750.0C317.0,755.5 322.5,758.7 327.0,763.0C331.5,767.3 335.7,773.2 340.0,776.0C344.3,778.8 348.5,778.5 353.0,780.0C357.5,781.5 362.5,784.3 367.0,785.0C371.5,785.7 375.7,785.0 380.0,784.0C384.3,783.0 388.5,781.7 393.0,779.0C397.5,776.3 402.5,771.5 407.0,768.0C411.5,764.5 415.7,762.7 420.0,758.0C424.3,753.3 428.5,745.8 433.0,740.0C437.5,734.2 442.5,729.2 447.0,723.0C451.5,716.8 457.0,706.8 460.0,703.0C463.0,699.2 462.5,702.7 465.0,700.0C467.5,697.3 471.7,690.9 475.0,686.7C478.3,682.5 483.0,677.8 485.0,675.0C487.0,672.2 484.5,673.7 487.0,670.0C489.5,666.3 495.7,658.5 500.0,653.0C504.3,647.5 508.5,642.5 513.0,637.0C517.5,631.5 522.5,625.7 527.0,620.0C531.5,614.3 535.7,607.7 540.0,603.0C544.3,598.3 548.5,595.8 553.0,592.0C557.5,588.2 562.5,583.3 567.0,580.0C571.5,576.7 575.7,574.0 580.0,572.0C584.3,570.0 588.5,569.3 593.0,568.0C597.5,566.7 602.2,564.3 607.0,564.0C611.8,563.7 617.7,563.8 622.0,566.0C626.3,568.2 628.8,573.0 633.0,577.0C637.2,581.0 642.5,585.7 647.0,590.0C651.5,594.3 655.7,598.0 660.0,603.0C664.3,608.0 669.2,613.8 673.0,620.0C676.8,626.2 679.7,633.3 683.0,640.0C686.3,646.7 690.7,655.0 693.0,660.0C695.3,665.0 695.0,665.7 696.7,670.0C698.4,674.3 700.8,681.0 703.0,686.0C705.2,691.0 707.2,694.3 710.0,700.0C712.8,705.7 716.7,713.3 720.0,720.0C723.3,726.7 726.2,733.3 730.0,740.0C733.8,746.7 738.5,753.8 743.0,760.0C747.5,766.2 752.5,771.5 757.0,777.0C761.5,782.5 765.0,787.5 770.0,793.0C775.0,798.5 782.0,803.3 787.0,810.0C792.0,816.7 795.7,826.3 800.0,833.0C804.3,839.7 808.5,845.5 813.0,850.0C817.5,854.5 822.0,854.2 827.0,860.0C832.0,865.8 837.5,879.5 843.0,885.0C848.5,890.5 854.3,890.0 860.0,893.0C865.7,896.0 871.5,899.7 877.0,903.0C882.5,906.3 888.0,910.5 893.0,913.0C898.0,915.5 902.5,915.7 907.0,918.0C911.5,920.3 915.0,924.5 920.0,927.0C925.0,929.5 932.0,930.3 937.0,933.0C942.0,935.7 946.2,940.7 950.0,943.0C953.8,945.3 957.2,945.3 960.0,947.0C962.8,948.7 963.2,951.7 967.0,953.0C970.8,954.3 977.5,954.0 983.0,955.0C988.5,956.0 991.7,957.9 1000.0,959.0C1008.3,960.1 1021.8,960.5 1033.0,961.5C1044.2,962.5 1055.8,964.0 1067.0,965.0C1078.2,966.0 1089.0,967.2 1100.0,967.5C1111.0,967.8 1121.8,967.3 1133.0,967.0C1144.2,966.7 1155.8,965.8 1167.0,965.5C1178.2,965.2 1184.5,965.1 1200.0,965.0C1215.5,964.9 1233.3,964.8 1260.0,965.0C1286.7,965.2 1342.5,966.2 1360.0,966.0C1377.5,965.8 1363.0,964.0 1365.0,964.0C1367.0,964.0 1343.2,965.7 1372.0,966.0C1400.8,966.3 1510.3,966.0 1538.0,966.0"/>
</g>
<text class="t" x="196.6" y="977.6" font-size="54.5" text-anchor="end">0.0</text>
<text class="t" x="196.6" y="745.9" font-size="54.5" text-anchor="end">0.1</text>
<text class="t" x="196.6" y="515.3" font-size="54.5" text-anchor="end">0.2</text>
<text class="t" x="196.6" y="282.6" font-size="54.5" text-anchor="end">0.3</text>
<text class="t" x="196.6" y="51.9" font-size="54.5" text-anchor="end">0.4</text>
<text class="t" x="228.8" y="1085" font-size="53" text-anchor="middle">240</text>
<text class="t" x="502.5" y="1085" font-size="53" text-anchor="middle">280</text>
<text class="t" x="780.0" y="1085" font-size="53" text-anchor="middle">320</text>
<text class="t" x="1055.8" y="1085" font-size="53" text-anchor="middle">360</text>
<text class="t" x="1331.2" y="1085" font-size="53" text-anchor="middle">400</text>
<text class="b" x="705" y="1172" font-size="50" textLength="358" lengthAdjust="spacing">Wavelength / nm</text>
<text class="b" transform="translate(50,672.5) rotate(-90)" font-size="50" textLength="257" lengthAdjust="spacing">Absorbance</text>
<rect x="1328.5" y="39.3" width="207.0" height="738.7" fill="#fff" stroke="none"/>
<path d="M1328.5,39.3 V778 H1534.5 V39.3" fill="none" stroke="#000" stroke-width="2"/>
<path d="M1342,75.1 H1452" stroke="#000000" stroke-width="6.1" fill="none"/>
<text class="t" x="1461" y="88.6" font-size="44.5">3f</text>
<path d="M1342,131.4 H1452" stroke="#ff0000" stroke-width="6.1" fill="none"/>
<text class="t" x="1461" y="144.9" font-size="44.5">3g</text>
<path d="M1342,187.7 H1452" stroke="#00ff00" stroke-width="6.1" fill="none"/>
<text class="t" x="1461" y="201.2" font-size="44.5">3h</text>
<path d="M1342,244.0 H1452" stroke="#0000ff" stroke-width="6.1" fill="none"/>
<text class="t" x="1461" y="257.5" font-size="44.5">3i</text>
<path d="M1342,300.3 H1452" stroke="#00ffff" stroke-width="6.1" fill="none"/>
<text class="t" x="1461" y="313.8" font-size="44.5">3j</text>
<path d="M1342,356.6 H1452" stroke="#ff00ff" stroke-width="6.1" fill="none"/>
<text class="t" x="1461" y="370.1" font-size="44.5">3k</text>
<path d="M1342,412.9 H1452" stroke="#ffff00" stroke-width="6.1" fill="none"/>
<text class="t" x="1461" y="426.4" font-size="44.5">3l</text>
<path d="M1342,469.2 H1452" stroke="#808000" stroke-width="6.1" fill="none"/>
<text class="t" x="1461" y="482.7" font-size="44.5">3m</text>
<path d="M1342,525.5 H1452" stroke="#000080" stroke-width="6.1" fill="none"/>
<text class="t" x="1461" y="539.0" font-size="44.5">3n</text>
<path d="M1342,581.8 H1452" stroke="#960087" stroke-width="6.1" fill="none"/>
<text class="t" x="1461" y="595.3" font-size="44.5">3o</text>
<path d="M1342,638.1 H1452" stroke="#960000" stroke-width="6.1" fill="none"/>
<text class="t" x="1461" y="651.6" font-size="44.5">3p</text>
<path d="M1342,694.4 H1452" stroke="#008000" stroke-width="6.1" fill="none"/>
<text class="t" x="1461" y="707.9" font-size="44.5">3q</text>
<path d="M1342,750.7 H1452" stroke="#008080" stroke-width="6.1" fill="none"/>
<text class="t" x="1461" y="764.2" font-size="44.5">3r</text>
<path d="M1540.0,37.2 V1014.4" stroke="#000" stroke-width="4.2"/>
<path d="M1327.5,39.3 H1540.0" stroke="#000" stroke-width="4.2"/>
</svg></body></html>
